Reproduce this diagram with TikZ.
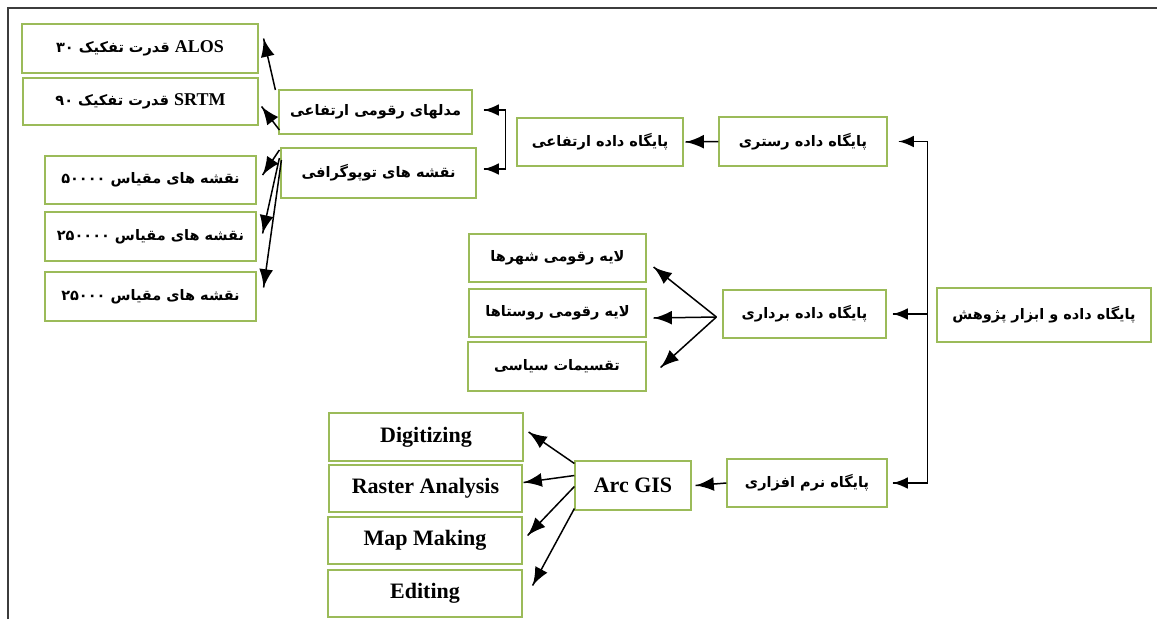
\documentclass[tikz,border=0pt]{standalone}
\usepackage{fontspec}
\setmainfont{Liberation Serif}
\newfontfamily\farsi[Script=Arabic]{DejaVu Sans}
\TeXXeTstate=1
\usepackage{tikz}
\usetikzlibrary{arrows}
\usetikzlibrary{decorations.markings}
\usetikzlibrary{calc}
\definecolor{boxgreen}{RGB}{155,187,89}
\definecolor{framegray}{RGB}{60,60,60}
\tikzset{->/.style = {decoration={markings,
                                  mark=at position 1 with {\arrow[scale=2.5]{latex}}},
                      postaction={decorate}}}
\tikzset{box/.style 2 args = {draw=boxgreen, line width=1.2pt, inner sep=0pt,
                              minimum width=#1pt, minimum height=#2pt}}
\newcommand{\fatext}[1]{{\fontsize{14.5}{16}\farsi\bfseries\raisebox{-2pt}{\beginR #1\endR}}}
\newcommand{\lattext}[1]{{\fontsize{18}{20}\rmfamily\bfseries\beginL #1\endL}}
\newcommand{\entext}[1]{{\fontsize{22}{24}\selectfont\bfseries #1}}

\begin{document}
\begin{tikzpicture}[x=1pt, y=-1pt, line width=1.5pt]
    \useasboundingbox (0,0) rectangle (1157,619);
    \draw [framegray, line width=2pt] (8,619) -- (8,8) -- (1157,8);

    % elevation data
    \node [box={236}{49}] (alos) at (140,48.5) {\fatext{\lattext{ALOS} قدرت تفکیک ۳۰}};
    \node [box={235}{47}] (srtm) at (140.5,101.5) {\fatext{\lattext{SRTM} قدرت تفکیک ۹۰}};
    \node [box={211}{48}] (s50) at (150.5,180) {\fatext{نقشه های مقیاس ۵۰۰۰۰}};
    \node [box={211}{49}] (s250) at (150.5,236.5) {\fatext{نقشه های مقیاس ۲۵۰۰۰۰}};
    \node [box={211}{49}] (s25) at (150.5,296.5) {\fatext{نقشه های مقیاس ۲۵۰۰۰}};
    \node [box={193}{44}] (dem) at (375.5,112) {\fatext{مدلهای رقومی ارتفاعی}};
    \node [box={195}{50}] (topo) at (378.5,173) {\fatext{نقشه های توپوگرافی}};
    \node [box={166}{48}] (elev) at (600,142) {\fatext{پایگاه داده ارتفاعی}};
    \node [box={168}{49}] (raster) at (803,141.5) {\fatext{پایگاه داده رستری}};

    % vector data
    \node [box={214}{54}] (main) at (1044,315) {\fatext{پایگاه داده و ابزار پژوهش}};
    \node [box={163}{48}] (vector) at (804.5,314) {\fatext{پایگاه داده برداری}};
    \node [box={177}{48}] (cities) at (557.5,258) {\fatext{لایه رقومی شهرها}};
    \node [box={177}{48}] (villages) at (557.5,313) {\fatext{لایه رقومی روستاها}};
    \node [box={178}{49}] (politic) at (557,366.5) {\fatext{تقسیمات سیاسی}};

    % software
    \node [box={160}{48}] (soft) at (807,483) {\fatext{پایگاه نرم افزاری}};
    \node [box={116}{49}] (arcgis) at (633,485.5) {\entext{Arc GIS}};
    \node [box={194}{48}] (digit) at (426,437) {\entext{Digitizing}};
    \node [box={193}{47}] (rastan) at (425.5,488.5) {\entext{Raster Analysis}};
    \node [box={194}{47}] (mapmk) at (425,540.5) {\entext{Map Making}};
    \node [box={194}{47}] (edit) at (425,593.5) {\entext{Editing}};

    \coordinate (spine) at ($(main.west)+(-9,0)$);
    \coordinate (bk) at ($(elev.west)+(-11,0)$);

    \draw [->, line width=1.1pt] (spine) |- ([xshift=11pt]raster.east);
    \draw [->, line width=1.1pt] (spine) |- ([xshift=6pt]vector.east);
    \draw [->, line width=1.1pt] (spine) |- ([xshift=5pt]soft.east);
    \draw [->, line width=1.1pt] (bk) |- ([xshift=11pt,yshift=2pt]dem.east);
    \draw [->, line width=1.1pt] (bk) |- ([xshift=7pt,yshift=4pt]topo.east);
    \draw [->] (raster.west) -- ([xshift=2pt]elev.east);
    \draw [->] (soft.west) -- ([xshift=4pt]arcgis.east);

    \foreach \a/\sx/\sy/\b/\tx/\ty in {dem/-3/22/alos/5/10, dem/1/-18/srtm/3/-5,
        topo/-1/23/s50/6/5, topo/-1/15/s250/6/3, topo/1/13/s25/7/9,
        vector/-6/-3/cities/7/-9, vector/-6/-3/villages/7/-5, vector/-6/-3/politic/14/-1,
        arcgis/0/22/digit/5/5, arcgis/0/10/rastan/1/6, arcgis/0/-1/mapmk/5/5, arcgis/0/-23/edit/10/8} {
      \draw [->] ([xshift=\sx pt,yshift=\sy pt]\a.west) -- ([xshift=\tx pt,yshift=\ty pt]\b.east);
    }
  \end{tikzpicture}
\end{document}
